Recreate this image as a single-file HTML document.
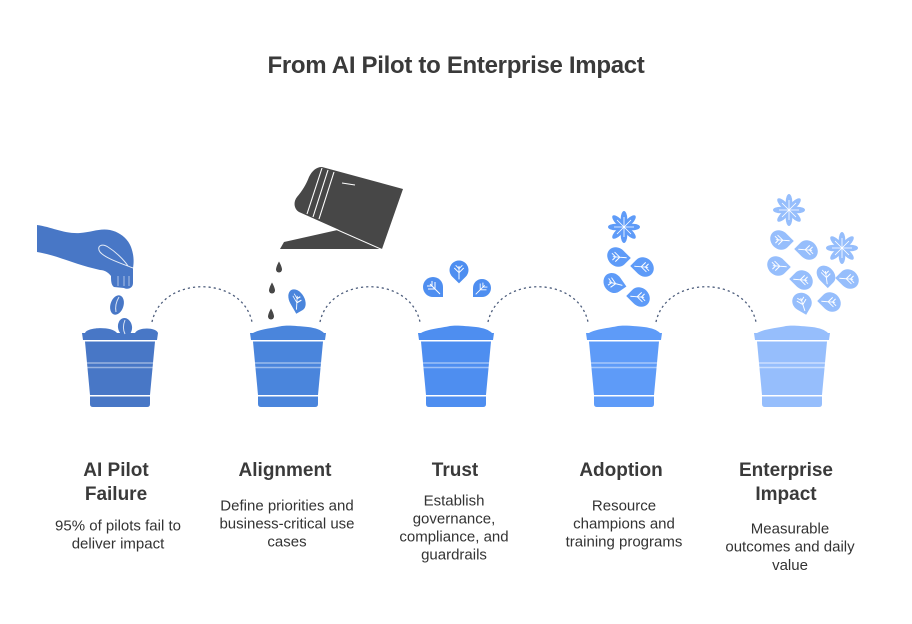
<!DOCTYPE html>
<html>
<head>
<meta charset="utf-8">
<style>
  html,body{margin:0;padding:0;background:#fff;}
  svg{display:block;}
  .t{font-family:"Liberation Sans",Arial,sans-serif;}
</style>
</head>
<body>
<svg width="912" height="624" viewBox="0 0 912 624" xmlns="http://www.w3.org/2000/svg">
  <rect width="912" height="624" fill="#fff"/>

  <!-- Title -->
  <text class="t" x="456" y="73" text-anchor="middle" font-size="24" font-weight="bold" fill="#3a3a3a" letter-spacing="-0.3">From AI Pilot to Enterprise Impact</text>

  <!-- Dashed arcs -->
  <g fill="none" stroke="#4d5d7c" stroke-width="1.3" stroke-dasharray="2.2 3">
    <path d="M152,322 C162,275 242,275 252,322"/>
    <path d="M320,322 C330,275 410,275 420,322"/>
    <path d="M488,322 C498,275 578,275 588,322"/>
    <path d="M656,322 C666,275 746,275 756,322"/>
  </g>

  <!-- Pot 1 -->
  <g transform="translate(120,0)" fill="#4877c6">
    <path d="M-35,333 C-33,327 -8,326 -3,333 Z"/>
    <path d="M15,333 C18,327 36,327 38,333 Z"/>
    <ellipse cx="5" cy="327" rx="7" ry="9" transform="rotate(-10 5 327)"/>
    <path d="M-38,333 L38,333 L37,340 L-37,340 Z"/>
    <path d="M-35,341.5 L35,341.5 L30,395 L-30,395 Z"/>
    <path d="M-30,396.5 L30,396.5 L30,404 Q30,407 27,407 L-27,407 Q-30,407 -30,404 Z"/>
    <line x1="-33" y1="363" x2="33" y2="363" stroke="#fff" stroke-opacity="0.45" stroke-width="1.4"/>
    <line x1="-33" y1="367.5" x2="33" y2="367.5" stroke="#fff" stroke-opacity="0.45" stroke-width="1.4"/>
    <path d="M5,320 C3,325 3,330 5,334" stroke="#fff" stroke-width="1" fill="none" stroke-opacity="0.8"/>
  </g>
  <!-- Hand -->
  <g fill="#4877c6">
    <path d="M37,225 C52,227 64,234 80,233 C92,232 100,228 110,230 C120,232 128,239 131,247 C134,255 134,262 133,268 L133,283 C133,288 128,290 124,288 L114,287 C111,285 111,280 111,276 C108,272 104,270 100,270 L88,267 C70,262 55,255 37,252 Z"/>
    <path d="M133,268 C120,263 105,258 100,252 C96,246 102,243 108,247 C116,252 124,260 128,266" fill="none" stroke="#fff" stroke-width="1" stroke-opacity="0.85"/>
    <line x1="118" y1="276" x2="118" y2="286" stroke="#fff" stroke-width="0.8" stroke-opacity="0.7"/>
    <line x1="124" y1="276" x2="124" y2="286" stroke="#fff" stroke-width="0.8" stroke-opacity="0.7"/>
    <line x1="129" y1="276" x2="129" y2="286" stroke="#fff" stroke-width="0.8" stroke-opacity="0.7"/>
    <ellipse cx="117" cy="305" rx="6.5" ry="10" transform="rotate(18 117 305)"/>
    <path d="M119,297 C116,302 115,307 116,312" stroke="#fff" stroke-width="1" fill="none" stroke-opacity="0.8"/>
  </g>

  <!-- Pot 2 -->
  <g transform="translate(288,0)" fill="#4a85dc">
    <path d="M-35,333 C-28,329 -15,328 -6,326 C0,325 10,326 20,327 C28,328 33,330 36,333 Z"/>
    <path d="M-38,333 L38,333 L37,340 L-37,340 Z"/>
    <path d="M-35,341.5 L35,341.5 L30,395 L-30,395 Z"/>
    <path d="M-30,396.5 L30,396.5 L30,404 Q30,407 27,407 L-27,407 Q-30,407 -30,404 Z"/>
    <line x1="-33" y1="363" x2="33" y2="363" stroke="#fff" stroke-opacity="0.45" stroke-width="1.4"/>
    <line x1="-33" y1="367.5" x2="33" y2="367.5" stroke="#fff" stroke-opacity="0.45" stroke-width="1.4"/>
  </g>
  <!-- Bag / watering -->
  <g fill="#474747">
    <path d="M322,167 L403,189 L382,249 L299,212 C294,209 293,202 297,197 C302,191 306,185 309,177 C312,171 316,167 322,167 Z"/>
    <path d="M280,249 L284,242 L342,229 L382,249 Z"/>
    <path d="M299,213 L382,249.5" stroke="#fff" stroke-width="1"/>
    <g stroke="#fff" stroke-width="1.1">
      <line x1="322" y1="168" x2="307" y2="214"/>
      <line x1="328" y1="170" x2="313" y2="217"/>
      <line x1="334" y1="172" x2="319" y2="219"/>
      <line x1="342" y1="183" x2="355" y2="185"/>
    </g>
    <path transform="translate(279,267)" d="M0,-5.5 C2,-2 3,1 3,2.5 A3,3 0 0 1 -3,2.5 C-3,1 -2,-2 0,-5.5 Z"/>
    <path transform="translate(272,288)" d="M0,-5.5 C2,-2 3,1 3,2.5 A3,3 0 0 1 -3,2.5 C-3,1 -2,-2 0,-5.5 Z"/>
    <path transform="translate(271,314)" d="M0,-5.5 C2,-2 3,1 3,2.5 A3,3 0 0 1 -3,2.5 C-3,1 -2,-2 0,-5.5 Z"/>
  </g>
  <!-- pot2 leaf -->
  <g transform="translate(297,300) rotate(-30) scale(0.75,1.15)">
    <path d="M-10,10 L-10,0 A10,10 0 1 1 0,10 Z" fill="#4a85dc"/>
    <path d="M-7,7 L3,-3 M-2,2 L-2,-5 M-2,2 L5,2 M1,-1 L1,-6 M1,-1 L6,-1" stroke="#fff" stroke-width="1" fill="none"/>
  </g>

  <!-- Pot 3 -->
  <g transform="translate(456,0)" fill="#4e8ef0">
    <path d="M-35,333 C-28,329 -15,328 -6,326 C0,325 10,326 20,327 C28,328 33,330 36,333 Z"/>
    <path d="M-38,333 L38,333 L37,340 L-37,340 Z"/>
    <path d="M-35,341.5 L35,341.5 L30,395 L-30,395 Z"/>
    <path d="M-30,396.5 L30,396.5 L30,404 Q30,407 27,407 L-27,407 Q-30,407 -30,404 Z"/>
    <line x1="-33" y1="363" x2="33" y2="363" stroke="#fff" stroke-opacity="0.45" stroke-width="1.4"/>
    <line x1="-33" y1="367.5" x2="33" y2="367.5" stroke="#fff" stroke-opacity="0.45" stroke-width="1.4"/>
  </g>
  <g fill="#4e8ef0">
    <g transform="translate(433,287) rotate(-90)">
      <path d="M-10,10 L-10,0 A10,10 0 1 1 0,10 Z"/>
      <path d="M-7,7 L3,-3 M-2,2 L-2,-5 M-2,2 L5,2 M1,-1 L1,-6 M1,-1 L6,-1" stroke="#fff" stroke-width="1" fill="none"/>
    </g>
    <g transform="translate(459,270) rotate(-45) scale(0.95)">
      <path d="M-10,10 L-10,0 A10,10 0 1 1 0,10 Z"/>
      <path d="M-7,7 L3,-3 M-2,2 L-2,-5 M-2,2 L5,2 M1,-1 L1,-6 M1,-1 L6,-1" stroke="#fff" stroke-width="1" fill="none"/>
    </g>
    <g transform="translate(482,288) rotate(0) scale(0.9)">
      <path d="M-10,10 L-10,0 A10,10 0 1 1 0,10 Z"/>
      <path d="M-7,7 L3,-3 M-2,2 L-2,-5 M-2,2 L5,2 M1,-1 L1,-6 M1,-1 L6,-1" stroke="#fff" stroke-width="1" fill="none"/>
    </g>
  </g>

  <!-- Pot 4 -->
  <g transform="translate(624,0)" fill="#5e9bf8">
    <path d="M-35,333 C-28,329 -15,328 -6,326 C0,325 10,326 20,327 C28,328 33,330 36,333 Z"/>
    <path d="M-38,333 L38,333 L37,340 L-37,340 Z"/>
    <path d="M-35,341.5 L35,341.5 L30,395 L-30,395 Z"/>
    <path d="M-30,396.5 L30,396.5 L30,404 Q30,407 27,407 L-27,407 Q-30,407 -30,404 Z"/>
    <line x1="-33" y1="363" x2="33" y2="363" stroke="#fff" stroke-opacity="0.45" stroke-width="1.4"/>
    <line x1="-33" y1="367.5" x2="33" y2="367.5" stroke="#fff" stroke-opacity="0.45" stroke-width="1.4"/>
  </g>
  <g fill="#5e9bf8">
    <g transform="translate(624,227)">
      <g>
        <ellipse cx="0" cy="-8" rx="3.3" ry="8"/>
        <ellipse cx="0" cy="-8" rx="3.3" ry="8" transform="rotate(45)"/>
        <ellipse cx="0" cy="-8" rx="3.3" ry="8" transform="rotate(90)"/>
        <ellipse cx="0" cy="-8" rx="3.3" ry="8" transform="rotate(135)"/>
        <ellipse cx="0" cy="-8" rx="3.3" ry="8" transform="rotate(180)"/>
        <ellipse cx="0" cy="-8" rx="3.3" ry="8" transform="rotate(225)"/>
        <ellipse cx="0" cy="-8" rx="3.3" ry="8" transform="rotate(270)"/>
        <ellipse cx="0" cy="-8" rx="3.3" ry="8" transform="rotate(315)"/>
      </g>
      <path d="M0,0 L0,-10 M0,0 L7,-7 M0,0 L10,0 M0,0 L7,7 M0,0 L0,10 M0,0 L-7,7 M0,0 L-10,0 M0,0 L-7,-7" stroke="#fff" stroke-width="0.8"/>
    </g>
    <g transform="translate(617,257) rotate(-135) scale(1.05,0.9)">
      <path d="M-10,10 L-10,0 A10,10 0 1 1 0,10 Z"/>
      <path d="M-7,7 L3,-3 M-2,2 L-2,-5 M-2,2 L5,2 M1,-1 L1,-6 M1,-1 L6,-1" stroke="#fff" stroke-width="1" fill="none"/>
    </g>
    <g transform="translate(644,267) rotate(45) scale(1.05,0.9)">
      <path d="M-10,10 L-10,0 A10,10 0 1 1 0,10 Z"/>
      <path d="M-7,7 L3,-3 M-2,2 L-2,-5 M-2,2 L5,2 M1,-1 L1,-6 M1,-1 L6,-1" stroke="#fff" stroke-width="1" fill="none"/>
    </g>
    <g transform="translate(613,283) rotate(-125) scale(1.05,0.9)">
      <path d="M-10,10 L-10,0 A10,10 0 1 1 0,10 Z"/>
      <path d="M-7,7 L3,-3 M-2,2 L-2,-5 M-2,2 L5,2 M1,-1 L1,-6 M1,-1 L6,-1" stroke="#fff" stroke-width="1" fill="none"/>
    </g>
    <g transform="translate(640,297) rotate(45) scale(1.05,0.9)">
      <path d="M-10,10 L-10,0 A10,10 0 1 1 0,10 Z"/>
      <path d="M-7,7 L3,-3 M-2,2 L-2,-5 M-2,2 L5,2 M1,-1 L1,-6 M1,-1 L6,-1" stroke="#fff" stroke-width="1" fill="none"/>
    </g>
  </g>

  <!-- Pot 5 -->
  <g transform="translate(792,0)" fill="#96befc">
    <path d="M-35,333 C-28,329 -15,328 -6,326 C0,325 10,326 20,327 C28,328 33,330 36,333 Z"/>
    <path d="M-38,333 L38,333 L37,340 L-37,340 Z"/>
    <path d="M-35,341.5 L35,341.5 L30,395 L-30,395 Z"/>
    <path d="M-30,396.5 L30,396.5 L30,404 Q30,407 27,407 L-27,407 Q-30,407 -30,404 Z"/>
    <line x1="-33" y1="363" x2="33" y2="363" stroke="#fff" stroke-opacity="0.5" stroke-width="1.4"/>
    <line x1="-33" y1="367.5" x2="33" y2="367.5" stroke="#fff" stroke-opacity="0.5" stroke-width="1.4"/>
  </g>
  <g fill="#96befc">
    <g transform="translate(789,210)">
      <ellipse cx="0" cy="-8" rx="3.3" ry="8"/>
      <ellipse cx="0" cy="-8" rx="3.3" ry="8" transform="rotate(45)"/>
      <ellipse cx="0" cy="-8" rx="3.3" ry="8" transform="rotate(90)"/>
      <ellipse cx="0" cy="-8" rx="3.3" ry="8" transform="rotate(135)"/>
      <ellipse cx="0" cy="-8" rx="3.3" ry="8" transform="rotate(180)"/>
      <ellipse cx="0" cy="-8" rx="3.3" ry="8" transform="rotate(225)"/>
      <ellipse cx="0" cy="-8" rx="3.3" ry="8" transform="rotate(270)"/>
      <ellipse cx="0" cy="-8" rx="3.3" ry="8" transform="rotate(315)"/>
      <path d="M0,0 L0,-10 M0,0 L7,-7 M0,0 L10,0 M0,0 L7,7 M0,0 L0,10 M0,0 L-7,7 M0,0 L-10,0 M0,0 L-7,-7" stroke="#fff" stroke-width="0.8"/>
    </g>
    <g transform="translate(842,248)">
      <ellipse cx="0" cy="-8" rx="3.3" ry="8"/>
      <ellipse cx="0" cy="-8" rx="3.3" ry="8" transform="rotate(45)"/>
      <ellipse cx="0" cy="-8" rx="3.3" ry="8" transform="rotate(90)"/>
      <ellipse cx="0" cy="-8" rx="3.3" ry="8" transform="rotate(135)"/>
      <ellipse cx="0" cy="-8" rx="3.3" ry="8" transform="rotate(180)"/>
      <ellipse cx="0" cy="-8" rx="3.3" ry="8" transform="rotate(225)"/>
      <ellipse cx="0" cy="-8" rx="3.3" ry="8" transform="rotate(270)"/>
      <ellipse cx="0" cy="-8" rx="3.3" ry="8" transform="rotate(315)"/>
      <path d="M0,0 L0,-10 M0,0 L7,-7 M0,0 L10,0 M0,0 L7,7 M0,0 L0,10 M0,0 L-7,7 M0,0 L-10,0 M0,0 L-7,-7" stroke="#fff" stroke-width="0.8"/>
    </g>
    <g transform="translate(780,240) rotate(-135) scale(1.05,0.9)">
      <path d="M-10,10 L-10,0 A10,10 0 1 1 0,10 Z"/>
      <path d="M-7,7 L3,-3 M-2,2 L-2,-5 M-2,2 L5,2 M1,-1 L1,-6 M1,-1 L6,-1" stroke="#fff" stroke-width="1" fill="none"/>
    </g>
    <g transform="translate(808,250) rotate(45) scale(1.05,0.9)">
      <path d="M-10,10 L-10,0 A10,10 0 1 1 0,10 Z"/>
      <path d="M-7,7 L3,-3 M-2,2 L-2,-5 M-2,2 L5,2 M1,-1 L1,-6 M1,-1 L6,-1" stroke="#fff" stroke-width="1" fill="none"/>
    </g>
    <g transform="translate(777,266) rotate(-135) scale(1.05,0.9)">
      <path d="M-10,10 L-10,0 A10,10 0 1 1 0,10 Z"/>
      <path d="M-7,7 L3,-3 M-2,2 L-2,-5 M-2,2 L5,2 M1,-1 L1,-6 M1,-1 L6,-1" stroke="#fff" stroke-width="1" fill="none"/>
    </g>
    <g transform="translate(803,280) rotate(45) scale(1.05,0.9)">
      <path d="M-10,10 L-10,0 A10,10 0 1 1 0,10 Z"/>
      <path d="M-7,7 L3,-3 M-2,2 L-2,-5 M-2,2 L5,2 M1,-1 L1,-6 M1,-1 L6,-1" stroke="#fff" stroke-width="1" fill="none"/>
    </g>
    <g transform="translate(826,275) rotate(-45) scale(0.8,1.05)">
      <path d="M-10,10 L-10,0 A10,10 0 1 1 0,10 Z"/>
      <path d="M-7,7 L3,-3 M-2,2 L-2,-5 M-2,2 L5,2 M1,-1 L1,-6 M1,-1 L6,-1" stroke="#fff" stroke-width="1" fill="none"/>
    </g>
    <g transform="translate(849,279) rotate(45) scale(1.05,0.9)">
      <path d="M-10,10 L-10,0 A10,10 0 1 1 0,10 Z"/>
      <path d="M-7,7 L3,-3 M-2,2 L-2,-5 M-2,2 L5,2 M1,-1 L1,-6 M1,-1 L6,-1" stroke="#fff" stroke-width="1" fill="none"/>
    </g>
    <g transform="translate(802,302) rotate(-60) scale(0.9,1.0)">
      <path d="M-10,10 L-10,0 A10,10 0 1 1 0,10 Z"/>
      <path d="M-7,7 L3,-3 M-2,2 L-2,-5 M-2,2 L5,2 M1,-1 L1,-6 M1,-1 L6,-1" stroke="#fff" stroke-width="1" fill="none"/>
    </g>
    <g transform="translate(831,302) rotate(45) scale(1.05,0.9)">
      <path d="M-10,10 L-10,0 A10,10 0 1 1 0,10 Z"/>
      <path d="M-7,7 L3,-3 M-2,2 L-2,-5 M-2,2 L5,2 M1,-1 L1,-6 M1,-1 L6,-1" stroke="#fff" stroke-width="1" fill="none"/>
    </g>
  </g>

  <!-- Headings -->
  <g class="t" font-size="19" font-weight="bold" fill="#3a3a3a" text-anchor="middle">
    <text x="116" y="476">AI Pilot</text>
    <text x="116" y="500">Failure</text>
    <text x="285" y="476">Alignment</text>
    <text x="455" y="476">Trust</text>
    <text x="621" y="476">Adoption</text>
    <text x="786" y="476">Enterprise</text>
    <text x="786" y="500">Impact</text>
  </g>

  <!-- Descriptions -->
  <g class="t" font-size="15" fill="#333" text-anchor="middle">
    <text x="118" y="530.5">95% of pilots fail to</text>
    <text x="118" y="548.5">deliver impact</text>

    <text x="287" y="510.5">Define priorities and</text>
    <text x="287" y="528.5">business-critical use</text>
    <text x="287" y="546.5">cases</text>

    <text x="454" y="505.5">Establish</text>
    <text x="454" y="523.5">governance,</text>
    <text x="454" y="541.5">compliance, and</text>
    <text x="454" y="559.5">guardrails</text>

    <text x="624" y="510.5">Resource</text>
    <text x="624" y="528.5">champions and</text>
    <text x="624" y="546.5">training programs</text>

    <text x="790" y="533.5">Measurable</text>
    <text x="790" y="551.5">outcomes and daily</text>
    <text x="790" y="570">value</text>
  </g>
</svg>
</body>
</html>
